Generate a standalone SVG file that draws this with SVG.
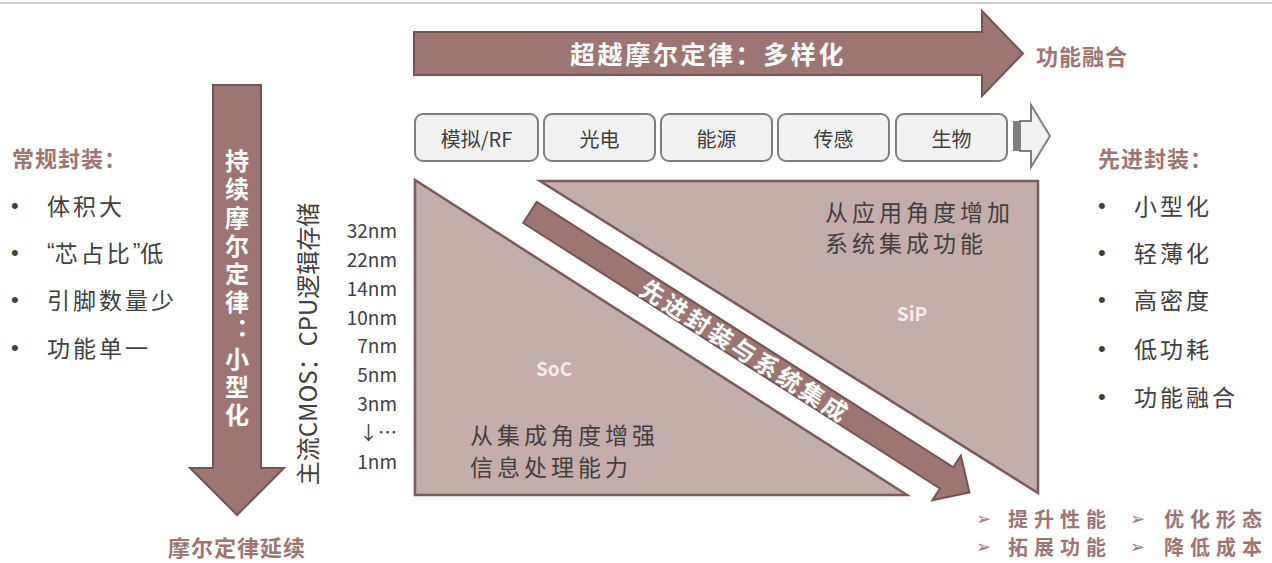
<svg xmlns="http://www.w3.org/2000/svg" width="1272" height="563" viewBox="0 0 1272 563">
<style>
text{font-family:"Noto Sans CJK SC","Liberation Sans",sans-serif;dominant-baseline:central}
.arr{fill:#9d7674;stroke:#735454;stroke-width:2}
.tri{fill:#c4aeac;stroke:#7a5a5a;stroke-width:2.5}
.box{fill:#f2f2f2;stroke:#7f7f7f;stroke-width:2}
.bt{font-size:20px;fill:#404040;text-anchor:middle}
.wt{fill:#ffffff;font-weight:bold}
.hd{fill:#9d7674;font-weight:bold;font-size:22px;letter-spacing:1px}
.li{fill:#404040;font-size:23px;letter-spacing:3px}
.in{fill:#404040;font-size:23px;letter-spacing:4px}
.bu{fill:#404040;font-size:22px;font-family:"Liberation Sans",sans-serif}
.nm{fill:#404040;font-size:19px;text-anchor:end}
.br{fill:#9d7674;font-weight:bold;font-size:20px;letter-spacing:6px}
.ar{fill:#9d7674;font-size:18px;font-family:"DejaVu Sans",sans-serif}
</style>
<line x1="0" y1="3" x2="1272" y2="3" stroke="#cfcfcf" stroke-width="2"/>

<g id="top-arrow">
<polygon class="arr" points="414,32 982,32 982,11 1023,53.5 982,96 982,75 414,75"/>
<text class="wt" x="708" y="53" font-size="25" letter-spacing="2.6" text-anchor="middle">超越摩尔定律：多样化</text>
</g>
<g id="label-func">
<text class="hd" x="1036" y="55" font-size="24" letter-spacing="4">功能融合</text>
</g>

<g id="boxes">
<rect class="box" x="415" y="114" width="123" height="47" rx="8"/>
<text class="bt" x="476.5" y="138">模拟/RF</text>
<rect class="box" x="544" y="114" width="111" height="47" rx="8"/>
<text class="bt" x="599.5" y="138">光电</text>
<rect class="box" x="661" y="114" width="111" height="47" rx="8"/>
<text class="bt" x="716.5" y="138">能源</text>
<rect class="box" x="778" y="114" width="111" height="47" rx="8"/>
<text class="bt" x="833.5" y="138">传感</text>
<rect class="box" x="896" y="114" width="111" height="47" rx="8"/>
<text class="bt" x="951.5" y="138">生物</text>
</g>
<g id="small-arrow">
<rect x="1013" y="121" width="7" height="30" fill="#7f7f7f"/>
<polygon points="1020,121 1031,121 1031,105 1050,136 1031,167 1031,151 1020,151" fill="#f2f2f2" stroke="#7f7f7f" stroke-width="2"/>
</g>

<g id="soc">
<polygon class="tri" points="415,180 415,495 907,495"/>
<text x="554" y="367" font-size="19" font-weight="bold" fill="#f2ecec" text-anchor="middle">SoC</text>
<text class="in" x="470" y="434">从集成角度增强</text>
<text class="in" x="470" y="466">信息处理能力</text>
</g>
<g id="sip">
<polygon class="tri" points="540,181 1038,181 1038,493"/>
<text x="912" y="312" font-size="19" font-weight="bold" fill="#f2ecec" text-anchor="middle">SiP</text>
<text class="in" x="825" y="211">从应用角度增加</text>
<text class="in" x="825" y="242">系统集成功能</text>
</g>

<g id="connectors">
<g transform="translate(530,212.5) rotate(32.5)">
<polygon class="arr" points="0,-12.5 494,-12.5 494,-26.5 521,0 494,26.5 494,12.5 0,12.5"/>
<text class="wt" x="256" y="0" font-size="24" letter-spacing="3" text-anchor="middle">先进封装与系统集成</text>
</g>
</g>

<g id="left-arrow">
<polygon class="arr" points="213,85 261,85 261,468 284,468 237,515 190,468 213,468"/>
<text class="wt" x="237" y="149" font-size="24" letter-spacing="4.2" writing-mode="vertical-rl" text-orientation="upright">持续摩尔定律：小型化</text>
</g>
<g id="label-moore">
<text class="hd" x="168" y="546" font-size="23" letter-spacing="4">摩尔定律延续</text>
</g>

<g id="cmos">
<text transform="translate(306,344) rotate(-90)" x="0" y="0" font-size="24" fill="#404040" text-anchor="middle">主流CMOS：CPU逻辑存储</text>
<text class="nm" x="397" y="229">32nm</text>
<text class="nm" x="397" y="258">22nm</text>
<text class="nm" x="397" y="287">14nm</text>
<text class="nm" x="397" y="316">10nm</text>
<text class="nm" x="397" y="344">7nm</text>
<text class="nm" x="397" y="373">5nm</text>
<text class="nm" x="397" y="402">3nm</text>
<text class="nm" x="397" y="431">↓…</text>
<text class="nm" x="397" y="460">1nm</text>
</g>

<g id="left-list">
<text class="hd" x="12" y="157">常规封装：</text>
<text class="bu" x="11" y="205">•</text><text class="li" x="47" y="205">体积大</text>
<text class="bu" x="11" y="252">•</text><text class="li" x="47" y="252"><tspan font-family="Liberation Sans" letter-spacing="0">“</tspan>芯占比<tspan font-family="Liberation Sans" letter-spacing="0">”</tspan>低</text>
<text class="bu" x="11" y="299">•</text><text class="li" x="47" y="299">引脚数量少</text>
<text class="bu" x="11" y="347">•</text><text class="li" x="47" y="347">功能单一</text>
</g>

<g id="right-list">
<text class="hd" x="1098" y="157">先进封装：</text>
<text class="bu" x="1098" y="205">•</text><text class="li" x="1134" y="205">小型化</text>
<text class="bu" x="1098" y="252">•</text><text class="li" x="1134" y="252">轻薄化</text>
<text class="bu" x="1098" y="299">•</text><text class="li" x="1134" y="299">高密度</text>
<text class="bu" x="1098" y="348">•</text><text class="li" x="1134" y="348">低功耗</text>
<text class="bu" x="1098" y="396">•</text><text class="li" x="1134" y="396">功能融合</text>
</g>

<g id="benefits">
<text class="ar" x="976" y="518">➢</text>
<text class="br" x="1008" y="518">提升性能</text>
<text class="ar" x="1130" y="518">➢</text>
<text class="br" x="1164" y="518">优化形态</text>
<text class="ar" x="976" y="546">➢</text>
<text class="br" x="1008" y="546">拓展功能</text>
<text class="ar" x="1130" y="546">➢</text>
<text class="br" x="1164" y="546">降低成本</text>
</g>
</svg>
